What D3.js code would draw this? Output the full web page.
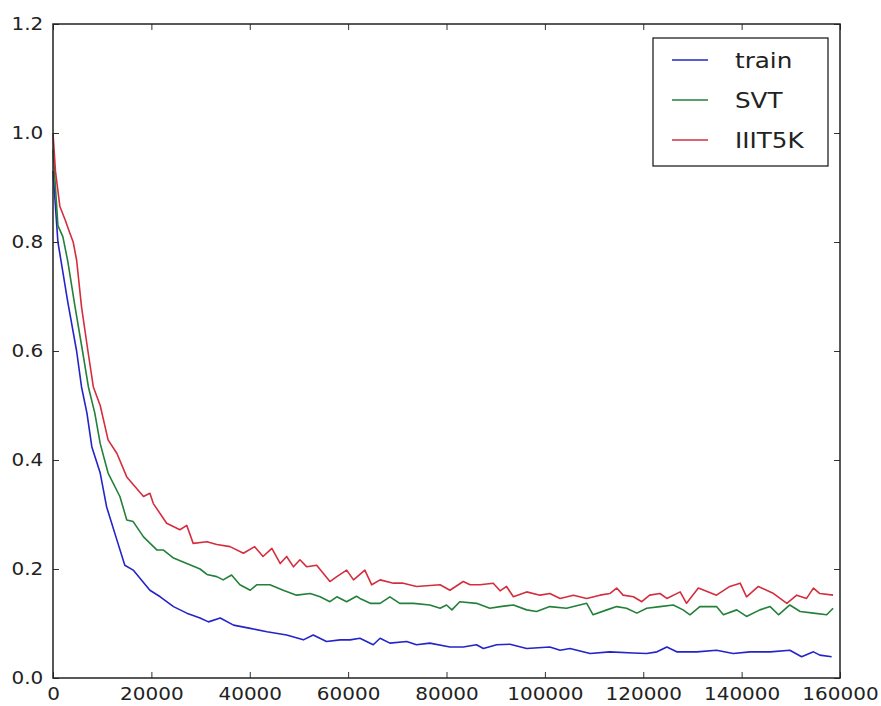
<!DOCTYPE html>
<html lang="en">
<head>
<meta charset="UTF-8" />
<title>Loss curves</title>
<style>
  body { margin: 0; background: #fff; }
  text { font-family: "DejaVu Sans", Verdana, sans-serif; fill: #222; }
</style>
</head>
<body>
<div id="chart"></div>
<script src="https://d3js.org/d3.v7.min.js"></script>
<script>
const width = 881;
const height = 706;

// tick labels
const xTicks = [0, 20000, 40000, 60000, 80000, 100000, 120000, 140000, 160000];
const yTicks = [0.0, 0.2, 0.4, 0.6, 0.8, 1.0, 1.2];

const seriesNames = ["train", "SVT", "IIIT5K"];
const seriesColors = ["#2424c8", "#23803a", "#d42e3e"];

// train
const trainIter = [0, 1000, 2000, 3000, 4800, 5800, 6900, 7900, 9600, 10900, 13000, 14600, 16300, 19700, 21800,
  24500, 27200, 29900, 31600, 34000, 36700, 40100, 43500, 47500, 50900, 52900, 55600, 58400, 60400, 62400,
  65100, 66500, 68500, 71900, 73900, 76600, 80700, 83400, 86100, 87500, 90200, 92900, 96300, 101000, 103100,
  105100, 109200, 113200, 118000, 120700, 122800, 124800, 126800, 130900, 134900, 138300, 141700, 145800, 149800, 152200,
  154600, 155900, 158300];
const trainLoss = [0.93, 0.80, 0.745, 0.69, 0.60, 0.534, 0.486, 0.424, 0.376, 0.314, 0.253, 0.207, 0.198, 0.161, 0.149,
  0.131, 0.119, 0.110, 0.103, 0.110, 0.097, 0.091, 0.085, 0.079, 0.070, 0.079, 0.067, 0.070, 0.070, 0.073,
  0.061, 0.073, 0.064, 0.067, 0.061, 0.064, 0.057, 0.057, 0.061, 0.054, 0.061, 0.062, 0.054, 0.057, 0.051,
  0.054, 0.045, 0.048, 0.046, 0.045, 0.048, 0.057, 0.048, 0.048, 0.051, 0.045, 0.048, 0.048, 0.051, 0.039,
  0.048, 0.042, 0.039];

// SVT
const svtIter = [0, 1000, 2000, 3000, 4500, 6000, 7200, 8500, 9600, 11200, 13600, 15000, 16300, 18400, 21100,
  22400, 24500, 27200, 29900, 31300, 33300, 34600, 36300, 38000, 40100, 41400, 44100, 46800, 49500, 52300,
  54300, 56300, 57700, 59700, 61700, 62400, 64500, 66500, 68500, 70500, 73300, 76600, 78700, 80000, 81100,
  82700, 86100, 88800, 90900, 93600, 96300, 98300, 101000, 104400, 108500, 109800, 112600, 114600, 116600, 118700,
  120700, 123400, 126100, 128100, 129500, 131500, 134900, 136300, 139000, 141000, 143700, 145800, 147500, 149800, 151900,
  154600, 157300, 158600];
const svtLoss = [0.97, 0.83, 0.81, 0.765, 0.68, 0.60, 0.534, 0.486, 0.43, 0.376, 0.333, 0.29, 0.287, 0.259, 0.235,
  0.235, 0.22, 0.21, 0.20, 0.19, 0.186, 0.18, 0.189, 0.171, 0.161, 0.171, 0.171, 0.161, 0.152, 0.155,
  0.149, 0.14, 0.149, 0.14, 0.15, 0.146, 0.137, 0.137, 0.149, 0.137, 0.137, 0.134, 0.128, 0.134, 0.125,
  0.14, 0.137, 0.128, 0.131, 0.134, 0.125, 0.122, 0.131, 0.128, 0.137, 0.116, 0.125, 0.131, 0.128, 0.119,
  0.128, 0.131, 0.134, 0.125, 0.116, 0.131, 0.131, 0.116, 0.125, 0.113, 0.125, 0.131, 0.116, 0.134, 0.122,
  0.119, 0.116, 0.128];

// IIIT5K
const iiitIter = [0, 500, 1400, 2500, 3400, 4100, 4800, 5800, 7100, 8200, 9600, 11200, 13000, 15000, 18400,
  19700, 20400, 23100, 25800, 27200, 28500, 31300, 33300, 36000, 38700, 41000, 42700, 44500, 46200, 47500,
  48900, 50200, 51600, 53600, 56300, 57700, 59700, 61100, 62400, 63400, 64800, 66500, 69200, 71200, 73900,
  78700, 80700, 83400, 84800, 86800, 89500, 90900, 92200, 93600, 96300, 99000, 101000, 103100, 105800, 108500,
  111200, 113200, 114600, 115900, 118000, 119700, 121300, 123400, 124800, 127500, 128800, 131200, 134900, 137600, 139700,
  141000, 143400, 146500, 149200, 151200, 153200, 154600, 155900, 158600];
const iiitLoss = [1.0, 0.93, 0.865, 0.84, 0.817, 0.80, 0.767, 0.681, 0.60, 0.534, 0.50, 0.437, 0.412, 0.369, 0.333,
  0.339, 0.32, 0.284, 0.272, 0.28, 0.247, 0.25, 0.245, 0.241, 0.229, 0.241, 0.223, 0.238, 0.21, 0.223,
  0.204, 0.217, 0.204, 0.207, 0.177, 0.186, 0.198, 0.18, 0.19, 0.198, 0.171, 0.18, 0.174, 0.174, 0.168,
  0.171, 0.161, 0.177, 0.171, 0.171, 0.174, 0.16, 0.168, 0.149, 0.158, 0.152, 0.155, 0.146, 0.152, 0.146,
  0.152, 0.155, 0.165, 0.152, 0.149, 0.14, 0.152, 0.155, 0.146, 0.158, 0.137, 0.165, 0.152, 0.168, 0.174,
  0.149, 0.168, 0.155, 0.137, 0.152, 0.146, 0.165, 0.155, 0.152];

const margin = { top: 24, right: 41, bottom: 28, left: 53 };

const svg = d3.select("#chart")
  .append("svg")
  .attr("width", width)
  .attr("height", height);

const x = d3.scaleLinear().domain([0, 160000]).range([margin.left, width - margin.right]);
const y = d3.scaleLinear().domain([0, 1.2]).range([height - margin.bottom, margin.top]);

const series = [
  { name: seriesNames[0], color: seriesColors[0], pts: d3.zip(trainIter, trainLoss) },
  { name: seriesNames[1], color: seriesColors[1], pts: d3.zip(svtIter, svtLoss) },
  { name: seriesNames[2], color: seriesColors[2], pts: d3.zip(iiitIter, iiitLoss) }
];

const line = d3.line()
  .x(d => x(d[0]))
  .y(d => y(d[1]));

svg.append("g")
  .selectAll("path")
  .data(series)
  .join("path")
  .attr("fill", "none")
  .attr("stroke", d => d.color)
  .attr("stroke-width", 1.6)
  .attr("stroke-linejoin", "round")
  .attr("d", d => line(d.pts));

// axes, ticks pointing inward on all four sides
const tickLen = -6;

const bottom = svg.append("g")
  .attr("transform", `translate(0,${y(0)})`)
  .call(d3.axisBottom(x).tickValues(xTicks).tickFormat(d3.format("d")).tickSizeInner(tickLen).tickSizeOuter(0).tickPadding(9));
bottom.selectAll("text").attr("transform", "scale(1.08,1)");

const left = svg.append("g")
  .attr("transform", `translate(${x(0)},0)`)
  .call(d3.axisLeft(y).tickValues(yTicks).tickFormat(d3.format(".1f")).tickSizeInner(tickLen).tickSizeOuter(0).tickPadding(9));
left.selectAll("text").attr("transform", "scale(1.08,1)");

svg.append("g")
  .attr("transform", `translate(0,${y(1.2)})`)
  .call(d3.axisTop(x).tickValues(xTicks).tickFormat("").tickSizeInner(tickLen).tickSizeOuter(0));

svg.append("g")
  .attr("transform", `translate(${x(160000)},0)`)
  .call(d3.axisRight(y).tickValues(yTicks).tickFormat("").tickSizeInner(tickLen).tickSizeOuter(0));

svg.selectAll(".domain").remove();
svg.selectAll(".tick line").attr("stroke", "#333").attr("stroke-width", 1);
svg.selectAll(".tick text").attr("font-size", 18.5).attr("fill", "#222");

svg.append("rect")
  .attr("x", x(0))
  .attr("y", y(1.2))
  .attr("width", x(160000) - x(0))
  .attr("height", y(0) - y(1.2))
  .attr("fill", "none")
  .attr("stroke", "#222")
  .attr("stroke-width", 1.5);

// legend
const legend = svg.append("g").attr("transform", "translate(653,38)");
legend.append("rect")
  .attr("width", 175)
  .attr("height", 128)
  .attr("fill", "#fff")
  .attr("stroke", "#222")
  .attr("stroke-width", 1.3);

const rows = legend.selectAll("g.row")
  .data(series)
  .join("g")
  .attr("class", "row")
  .attr("transform", (d, i) => `translate(0,${22 + i * 40})`);

rows.append("line")
  .attr("x1", 19)
  .attr("x2", 55)
  .attr("stroke", d => d.color)
  .attr("stroke-width", 1.6);

rows.append("text")
  .attr("x", 82)
  .attr("y", 8)
  .attr("font-size", 22)
  .attr("transform", "translate(82,0) scale(1.12,1) translate(-82,0)")
  .text(d => d.name);
</script>
</body>
</html>
